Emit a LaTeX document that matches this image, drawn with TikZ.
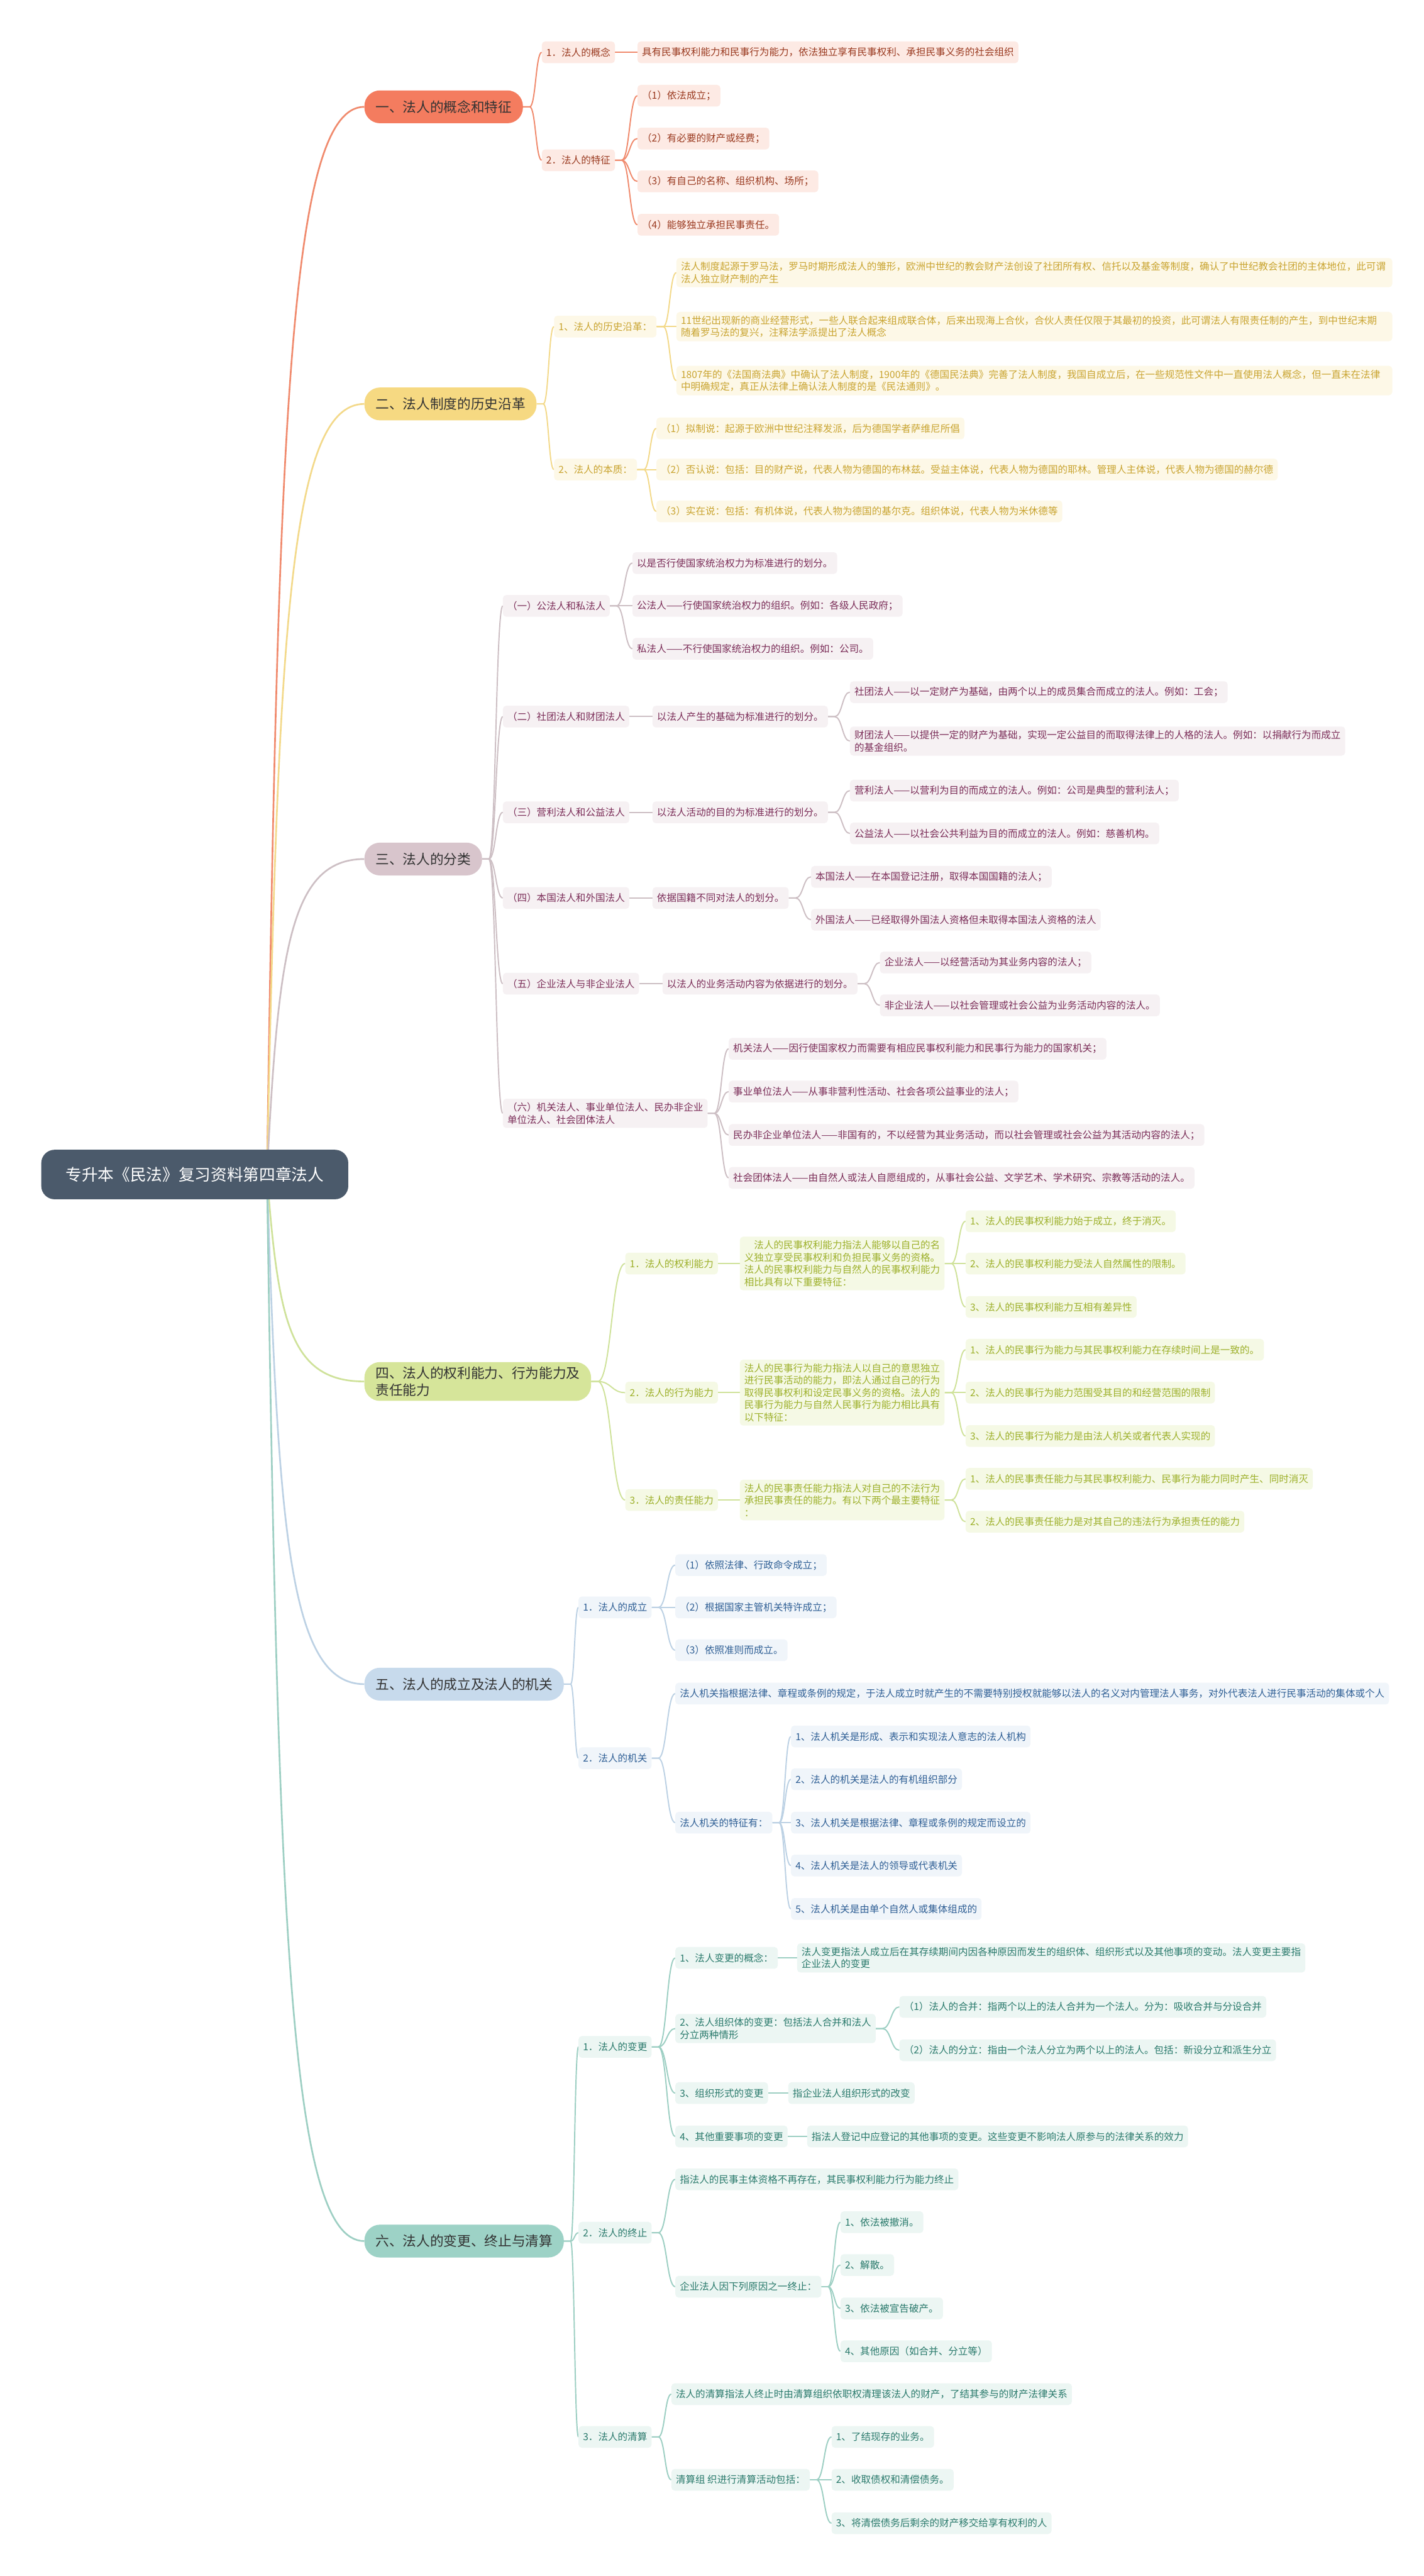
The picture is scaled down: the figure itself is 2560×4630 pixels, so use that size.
\documentclass[tikz,border=0pt]{standalone}
\usepackage{fontspec}
\setmainfont{Noto Sans CJK SC}
\usetikzlibrary{calc}
\pgfdeclarelayer{back}
\pgfdeclarelayer{bg}
\pgfsetlayers{back,bg,main}
\definecolor{rootf}{HTML}{4B5A6B}
\definecolor{maint}{HTML}{333333}
\definecolor{M1}{HTML}{F47C5F}\definecolor{F1}{HTML}{FDEAE4}\definecolor{T1}{HTML}{9A3A20}\definecolor{L1}{HTML}{F08A6D}
\definecolor{M2}{HTML}{F6D982}\definecolor{F2}{HTML}{FDF8E7}\definecolor{T2}{HTML}{C9A430}\definecolor{L2}{HTML}{F3D98A}
\definecolor{M3}{HTML}{D8C5CC}\definecolor{F3}{HTML}{F6F1F3}\definecolor{T3}{HTML}{7B2D58}\definecolor{L3}{HTML}{CDBFC4}
\definecolor{M4}{HTML}{D6E59A}\definecolor{F4}{HTML}{F5F9E5}\definecolor{T4}{HTML}{9DB02A}\definecolor{L4}{HTML}{CFE29A}
\definecolor{M5}{HTML}{C7DAEC}\definecolor{F5}{HTML}{F0F5FA}\definecolor{T5}{HTML}{2F5F95}\definecolor{L5}{HTML}{BCD1E4}
\definecolor{M6}{HTML}{9DD2C6}\definecolor{F6}{HTML}{ECF6F3}\definecolor{T6}{HTML}{2A7A6C}\definecolor{L6}{HTML}{9DCFC3}
\newcommand\mmlink[3]{%
  \draw[#1] let \p1=(#2.east), \p2=(#3.west), \n1={0.5*\x1+0.5*\x2+6} in
    (\p1) -- (\x1+12pt,\y1) .. controls ({\n1*1pt},\y1) and ({\n1*1pt},\y2) .. (\p2);}
\newcommand\rootlink[2]{%
  \draw[#1] let \p1=(rs), \p2=(#2.west) in
    (\p1) .. controls (\x1+20pt,{0.7*\y2+0.3*\y1}) and (\x1+40pt,\y2) .. (\p2);}
\tikzset{
  box/.style={rounded corners=6pt, minimum height=39pt, inner xsep=8pt, inner ysep=7pt,
    anchor=west, font=\fontsize{17.6}{22}\selectfont, align=left},
  s1/.style={box, fill=F1, text=T1}, s2/.style={box, fill=F2, text=T2},
  s3/.style={box, fill=F3, text=T3}, s4/.style={box, fill=F4, text=T4},
  s5/.style={box, fill=F5, text=T5}, s6/.style={box, fill=F6, text=T6},
  mainbox/.style={rounded corners=28pt, minimum height=59pt, inner xsep=20pt, inner ysep=8pt,
    anchor=west, font=\fontsize{24.5}{31}\selectfont, text=maint, align=left},
  l1/.style={draw=L1, line width=2.2pt}, l2/.style={draw=L2, line width=2.2pt},
  l3/.style={draw=L3, line width=2.2pt}, l4/.style={draw=L4, line width=2.2pt},
  l5/.style={draw=L5, line width=2.2pt}, l6/.style={draw=L6, line width=2.2pt},
}
\begin{document}
\begin{tikzpicture}[x=1pt,y=-1pt]
\begin{pgfonlayer}{back}
\fill[white] (0,0) rectangle (2560,4630);
\end{pgfonlayer}
\useasboundingbox (0,0) rectangle (2560,4630);
% root
\node[anchor=west, fill=rootf, text=white, rounded corners=24pt, minimum height=89pt,
  minimum width=552pt, font=\fontsize{29}{34}\selectfont] (root) at (74,2111) {专升本《民法》复习资料第四章法人};
\coordinate (rs) at (480,2111);
% main nodes
\node[mainbox, fill=M1] (m1) at (655,192) {一、法人的概念和特征};
\node[mainbox, fill=M2] (m2) at (655,726) {二、法人制度的历史沿革};
\node[mainbox, fill=M3] (m3) at (655,1544) {三、法人的分类};
\node[mainbox, fill=M4] (m4) at (655,2483) {四、法人的权利能力、行为能力及\\责任能力};
\node[mainbox, fill=M5] (m5) at (655,3027) {五、法人的成立及法人的机关};
\node[mainbox, fill=M6] (m6) at (655,4028) {六、法人的变更、终止与清算};
% section 1
\node[s1] (a1) at (974,94) {1．法人的概念};
\node[s1] (a1x) at (1146,94) {具有民事权利能力和民事行为能力，依法独立享有民事权利、承担民事义务的社会组织};
\node[s1] (a2) at (974,288) {2．法人的特征};
\node[s1] (a2a) at (1146,172) {（1）依法成立；};
\node[s1] (a2b) at (1146,249) {（2）有必要的财产或经费；};
\node[s1] (a2c) at (1146,326) {（3）有自己的名称、组织机构、场所；};
\node[s1] (a2d) at (1146,404) {（4）能够独立承担民事责任。};
% section 2
\node[s2] (b1) at (996,587) {1、法人的历史沿革：};
\node[s2, text width=1271pt] (b1a) at (1216,490) {法人制度起源于罗马法，罗马时期形成法人的雏形，欧洲中世纪的教会财产法创设了社团所有权、信托以及基金等制度，确认了中世纪教会社团的主体地位，此可谓\\法人独立财产制的产生};
\node[s2, text width=1271pt] (b1b) at (1216,587) {11世纪出现新的商业经营形式，一些人联合起来组成联合体，后来出现海上合伙，合伙人责任仅限于其最初的投资，此可谓法人有限责任制的产生，到中世纪末期\\随着罗马法的复兴，注释法学派提出了法人概念};
\node[s2, text width=1271pt] (b1c) at (1216,684) {1807年的《法国商法典》中确认了法人制度，1900年的《德国民法典》完善了法人制度，我国自成立后，在一些规范性文件中一直使用法人概念，但一直未在法律\\中明确规定，真正从法律上确认法人制度的是《民法通则》。};
\node[s2] (b2) at (996,844) {2、法人的本质：};
\node[s2] (b2a) at (1180,770) {（1）拟制说：起源于欧洲中世纪注释发派，后为德国学者萨维尼所倡};
\node[s2] (b2b) at (1180,844) {（2）否认说：包括：目的财产说，代表人物为德国的布林兹。受益主体说，代表人物为德国的耶林。管理人主体说，代表人物为德国的赫尔德};
\node[s2] (b2c) at (1180,919) {（3）实在说：包括：有机体说，代表人物为德国的基尔克。组织体说，代表人物为米休德等};
% section 3
\node[s3] (c1) at (904,1089) {（一）公法人和私法人};
\node[s3] (c1a) at (1137,1012) {以是否行使国家统治权力为标准进行的划分。};
\node[s3] (c1b) at (1137,1089) {公法人——行使国家统治权力的组织。例如：各级人民政府；};
\node[s3] (c1c) at (1137,1166) {私法人——不行使国家统治权力的组织。例如：公司。};
\node[s3] (c2) at (904,1288) {（二）社团法人和财团法人};
\node[s3] (c2x) at (1173,1288) {以法人产生的基础为标准进行的划分。};
\node[s3] (c2a) at (1528,1244) {社团法人——以一定财产为基础，由两个以上的成员集合而成立的法人。例如：工会；};
\node[s3] (c2b) at (1528,1332) {财团法人——以提供一定的财产为基础，实现一定公益目的而取得法律上的人格的法人。例如：以捐献行为而成立\\的基金组织。};
\node[s3] (c3) at (904,1460) {（三）营利法人和公益法人};
\node[s3] (c3x) at (1173,1460) {以法人活动的目的为标准进行的划分。};
\node[s3] (c3a) at (1528,1421) {营利法人——以营利为目的而成立的法人。例如：公司是典型的营利法人；};
\node[s3] (c3b) at (1528,1498) {公益法人——以社会公共利益为目的而成立的法人。例如：慈善机构。};
\node[s3] (c4) at (904,1614) {（四）本国法人和外国法人};
\node[s3] (c4x) at (1173,1614) {依据国籍不同对法人的划分。};
\node[s3] (c4a) at (1458,1576) {本国法人——在本国登记注册，取得本国国籍的法人；};
\node[s3] (c4b) at (1458,1653) {外国法人——已经取得外国法人资格但未取得本国法人资格的法人};
\node[s3] (c5) at (904,1768) {（五）企业法人与非企业法人};
\node[s3] (c5x) at (1191,1768) {以法人的业务活动内容为依据进行的划分。};
\node[s3] (c5a) at (1582,1730) {企业法人——以经营活动为其业务内容的法人；};
\node[s3] (c5b) at (1582,1807) {非企业法人——以社会管理或社会公益为业务活动内容的法人。};
\node[s3] (c6) at (904,2001) {（六）机关法人、事业单位法人、民办非企业\\单位法人、社会团体法人};
\node[s3] (c6a) at (1310,1885) {机关法人——因行使国家权力而需要有相应民事权利能力和民事行为能力的国家机关；};
\node[s3] (c6b) at (1310,1962) {事业单位法人——从事非营利性活动、社会各项公益事业的法人；};
\node[s3] (c6c) at (1310,2040) {民办非企业单位法人——非国有的，不以经营为其业务活动，而以社会管理或社会公益为其活动内容的法人；};
\node[s3] (c6d) at (1310,2117) {社会团体法人——由自然人或法人自愿组成的，从事社会公益、文学艺术、学术研究、宗教等活动的法人。};
% section 4
\node[s4] (d1) at (1124,2271) {1．法人的权利能力};
\node[s4] (d1x) at (1330,2271) {\hspace*{17.6pt}法人的民事权利能力指法人能够以自己的名\\义独立享受民事权利和负担民事义务的资格。\\法人的民事权利能力与自然人的民事权利能力\\相比具有以下重要特征：};
\node[s4] (d1a) at (1736,2195) {1、法人的民事权利能力始于成立，终于消灭。};
\node[s4] (d1b) at (1736,2271) {2、法人的民事权利能力受法人自然属性的限制。};
\node[s4] (d1c) at (1736,2349) {3、法人的民事权利能力互相有差异性};
\node[s4] (d2) at (1124,2503) {2．法人的行为能力};
\node[s4] (d2x) at (1330,2503) {法人的民事行为能力指法人以自己的意思独立\\进行民事活动的能力，即法人通过自己的行为\\取得民事权利和设定民事义务的资格。法人的\\民事行为能力与自然人民事行为能力相比具有\\以下特征：};
\node[s4] (d2a) at (1736,2426) {1、法人的民事行为能力与其民事权利能力在存续时间上是一致的。};
\node[s4] (d2b) at (1736,2503) {2、法人的民事行为能力范围受其目的和经营范围的限制};
\node[s4] (d2c) at (1736,2581) {3、法人的民事行为能力是由法人机关或者代表人实现的};
\node[s4] (d3) at (1124,2696) {3．法人的责任能力};
\node[s4] (d3x) at (1330,2696) {法人的民事责任能力指法人对自己的不法行为\\承担民事责任的能力。有以下两个最主要特征\\：};
\node[s4] (d3a) at (1736,2658) {1、法人的民事责任能力与其民事权利能力、民事行为能力同时产生、同时消灭};
\node[s4] (d3b) at (1736,2735) {2、法人的民事责任能力是对其自己的违法行为承担责任的能力};
% section 5
\node[s5] (e1) at (1040,2889) {1．法人的成立};
\node[s5] (e1a) at (1214,2813) {（1）依照法律、行政命令成立；};
\node[s5] (e1b) at (1214,2889) {（2）根据国家主管机关特许成立；};
\node[s5] (e1c) at (1214,2966) {（3）依照准则而成立。};
\node[s5] (e2) at (1040,3160) {2．法人的机关};
\node[s5] (e2a) at (1214,3044) {法人机关指根据法律、章程或条例的规定，于法人成立时就产生的不需要特别授权就能够以法人的名义对内管理法人事务，对外代表法人进行民事活动的集体或个人};
\node[s5] (e2b) at (1214,3276) {法人机关的特征有：};
\node[s5] (e2b1) at (1422,3121) {1、法人机关是形成、表示和实现法人意志的法人机构};
\node[s5] (e2b2) at (1422,3198) {2、法人的机关是法人的有机组织部分};
\node[s5] (e2b3) at (1422,3276) {3、法人机关是根据法律、章程或条例的规定而设立的};
\node[s5] (e2b4) at (1422,3353) {4、法人机关是法人的领导或代表机关};
\node[s5] (e2b5) at (1422,3431) {5、法人机关是由单个自然人或集体组成的};
% section 6
\node[s6] (f1) at (1040,3679) {1．法人的变更};
\node[s6] (f1a) at (1214,3519) {1、法人变更的概念：};
\node[s6] (f1ax) at (1433,3519) {法人变更指法人成立后在其存续期间内因各种原因而发生的组织体、组织形式以及其他事项的变动。法人变更主要指\\企业法人的变更};
\node[s6] (f1b) at (1214,3646) {2、法人组织体的变更：包括法人合并和法人\\分立两种情形};
\node[s6] (f1b1) at (1617,3607) {（1）法人的合并：指两个以上的法人合并为一个法人。分为：吸收合并与分设合并};
\node[s6] (f1b2) at (1617,3685) {（2）法人的分立：指由一个法人分立为两个以上的法人。包括：新设分立和派生分立};
\node[s6] (f1c) at (1214,3762) {3、组织形式的变更};
\node[s6] (f1cx) at (1417,3762) {指企业法人组织形式的改变};
\node[s6] (f1d) at (1214,3840) {4、其他重要事项的变更};
\node[s6] (f1dx) at (1451,3840) {指法人登记中应登记的其他事项的变更。这些变更不影响法人原参与的法律关系的效力};
\node[s6] (f2) at (1040,4013) {2．法人的终止};
\node[s6] (f2a) at (1214,3917) {指法人的民事主体资格不再存在，其民事权利能力行为能力终止};
\node[s6] (f2b) at (1214,4110) {企业法人因下列原因之一终止：};
\node[s6] (f2b1) at (1511,3994) {1、依法被撤消。};
\node[s6] (f2b2) at (1511,4071) {2、解散。};
\node[s6] (f2b3) at (1511,4149) {3、依法被宣告破产。};
\node[s6] (f2b4) at (1511,4226) {4、其他原因（如合并、分立等）};
\node[s6] (f3) at (1040,4380) {3．法人的清算};
\node[s6] (f3a) at (1207,4303) {法人的清算指法人终止时由清算组织依职权清理该法人的财产，了结其参与的财产法律关系};
\node[s6] (f3b) at (1207,4457) {清算组 织进行清算活动包括：};
\node[s6] (f3b1) at (1495,4380) {1、了结现存的业务。};
\node[s6] (f3b2) at (1495,4457) {2、收取债权和清偿债务。};
\node[s6] (f3b3) at (1495,4535) {3、将清偿债务后剩余的财产移交给享有权利的人};
% connectors
\begin{pgfonlayer}{bg}
\rootlink{draw=L1, line width=3pt}{m1}
\rootlink{draw=L2, line width=3pt}{m2}
\rootlink{draw=L3, line width=3pt}{m3}
\rootlink{draw=L4, line width=3pt}{m4}
\rootlink{draw=L5, line width=3pt}{m5}
\rootlink{draw=L6, line width=3pt}{m6}
\foreach \c in {a1,a2} {\mmlink{l1}{m1}{\c}}
\mmlink{l1}{a1}{a1x}
\foreach \c in {a2a,a2b,a2c,a2d} {\mmlink{l1}{a2}{\c}}
\foreach \c in {b1,b2} {\mmlink{l2}{m2}{\c}}
\foreach \c in {b1a,b1b,b1c} {\mmlink{l2}{b1}{\c}}
\foreach \c in {b2a,b2b,b2c} {\mmlink{l2}{b2}{\c}}
\foreach \c in {c1,c2,c3,c4,c5,c6} {\mmlink{l3}{m3}{\c}}
\foreach \c in {c1a,c1b,c1c} {\mmlink{l3}{c1}{\c}}
\mmlink{l3}{c2}{c2x}\mmlink{l3}{c2x}{c2a}\mmlink{l3}{c2x}{c2b}
\mmlink{l3}{c3}{c3x}\mmlink{l3}{c3x}{c3a}\mmlink{l3}{c3x}{c3b}
\mmlink{l3}{c4}{c4x}\mmlink{l3}{c4x}{c4a}\mmlink{l3}{c4x}{c4b}
\mmlink{l3}{c5}{c5x}\mmlink{l3}{c5x}{c5a}\mmlink{l3}{c5x}{c5b}
\foreach \c in {c6a,c6b,c6c,c6d} {\mmlink{l3}{c6}{\c}}
\foreach \c in {d1,d2,d3} {\mmlink{l4}{m4}{\c}}
\mmlink{l4}{d1}{d1x}\mmlink{l4}{d2}{d2x}\mmlink{l4}{d3}{d3x}
\foreach \c in {d1a,d1b,d1c} {\mmlink{l4}{d1x}{\c}}
\foreach \c in {d2a,d2b,d2c} {\mmlink{l4}{d2x}{\c}}
\foreach \c in {d3a,d3b} {\mmlink{l4}{d3x}{\c}}
\foreach \c in {e1,e2} {\mmlink{l5}{m5}{\c}}
\foreach \c in {e1a,e1b,e1c} {\mmlink{l5}{e1}{\c}}
\foreach \c in {e2a,e2b} {\mmlink{l5}{e2}{\c}}
\foreach \c in {e2b1,e2b2,e2b3,e2b4,e2b5} {\mmlink{l5}{e2b}{\c}}
\foreach \c in {f1,f2,f3} {\mmlink{l6}{m6}{\c}}
\foreach \c in {f1a,f1b,f1c,f1d} {\mmlink{l6}{f1}{\c}}
\mmlink{l6}{f1a}{f1ax}\mmlink{l6}{f1c}{f1cx}\mmlink{l6}{f1d}{f1dx}
\foreach \c in {f1b1,f1b2} {\mmlink{l6}{f1b}{\c}}
\foreach \c in {f2a,f2b} {\mmlink{l6}{f2}{\c}}
\foreach \c in {f2b1,f2b2,f2b3,f2b4} {\mmlink{l6}{f2b}{\c}}
\foreach \c in {f3a,f3b} {\mmlink{l6}{f3}{\c}}
\foreach \c in {f3b1,f3b2,f3b3} {\mmlink{l6}{f3b}{\c}}
\end{pgfonlayer}
\end{tikzpicture}
\end{document}
